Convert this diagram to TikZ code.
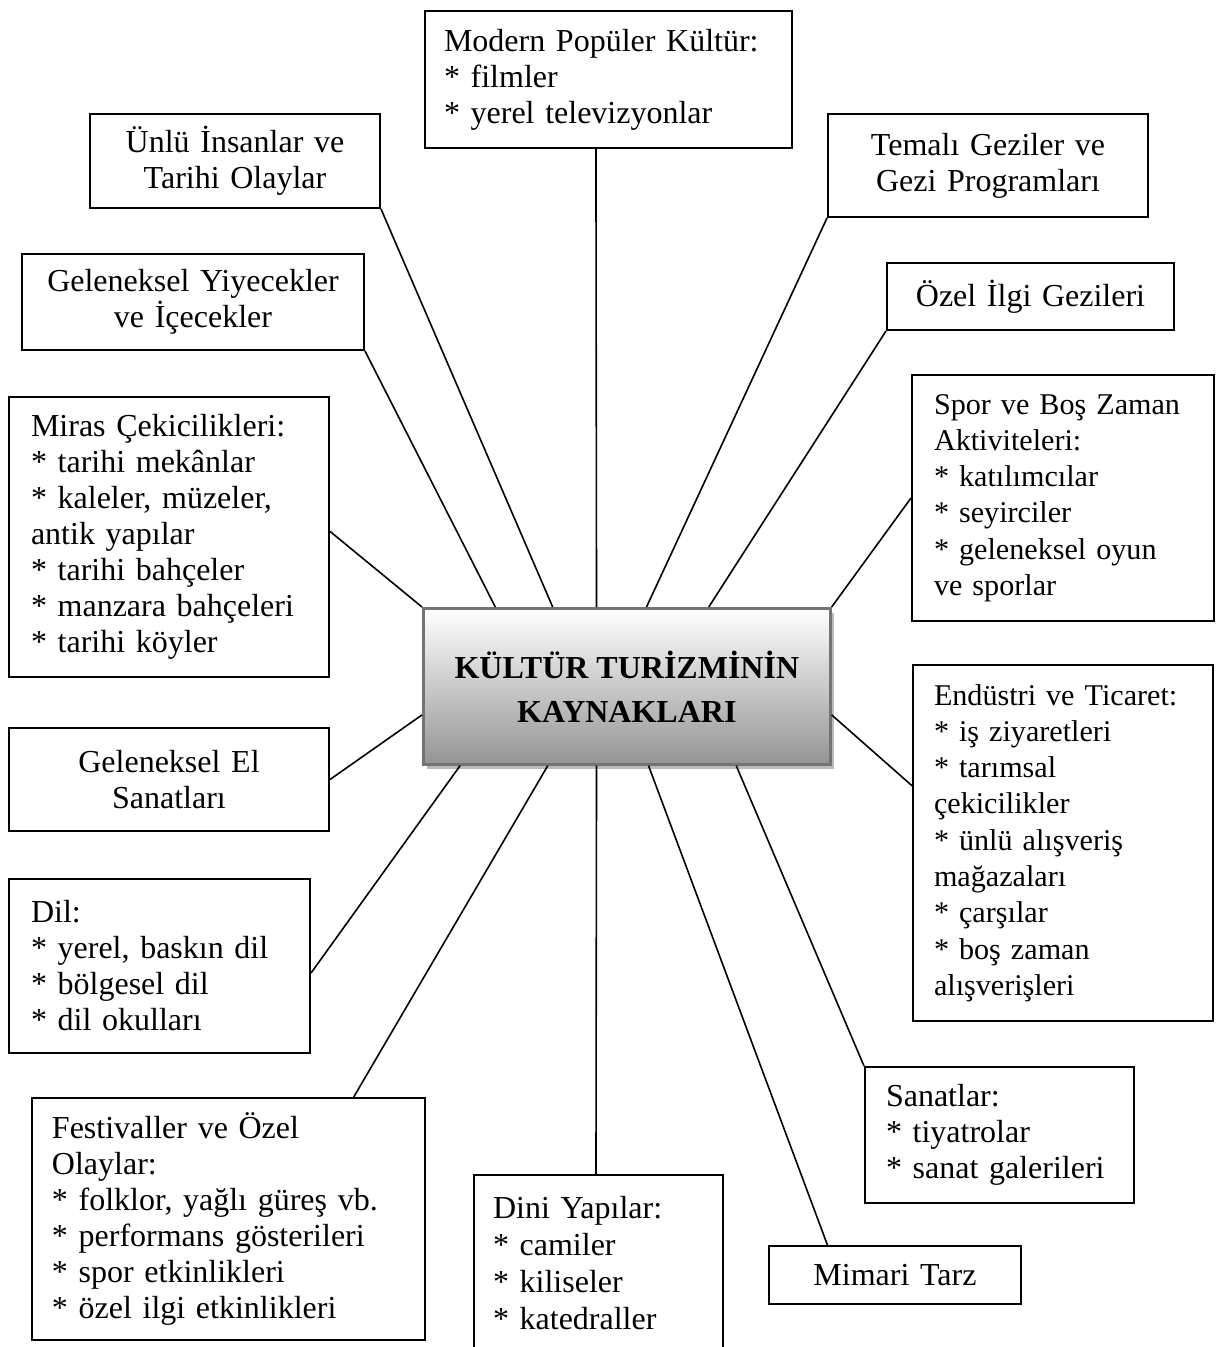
\documentclass[tikz,border=0pt]{standalone}
\usepackage{fontspec}
\setmainfont{Liberation Serif}
\usetikzlibrary{calc,shadows}

\def\birim{0.375pt}
\tikzset{
  kutu/.style n args={3}{draw, line width=0.75pt, anchor=north west, inner sep=0pt,
    minimum width=#1*\birim, minimum height=#2*\birim, text width=(#1-#3)*\birim,
    align=left, font=\fontsize{12}{13.5}\selectfont},
  ortali/.style={align=center},
  dar/.style={font=\fontsize{11.3}{13.6}\selectfont},
  merkez/.style={draw=black!55, line width=1pt, anchor=north west, inner sep=0pt,
    minimum width=407*\birim, minimum height=156*\birim, align=center,
    font=\fontsize{12}{16.5}\selectfont\bfseries,
    top color=white, middle color=black!12, bottom color=black!42,
    drop shadow={shadow xshift=1.5pt, shadow yshift=-1.6pt, fill=black!30, opacity=0.9}}
}

\begin{document}
\begin{tikzpicture}[x=\birim, y=-\birim, line width=0.6pt]
    \useasboundingbox (0,0) rectangle (1220,1347);

    \node[kutu={367}{137}{38}] (modern) at (424,10) {Modern Popüler Kültür:\\{}* filmler\\{}* yerel televizyonlar};
    \node[kutu={290}{94}{20}, ortali] (unlu) at (89,113) {Ünlü İnsanlar ve\\Tarihi Olaylar};
    \node[kutu={320}{103}{20}, ortali] (temali) at (827,113) {Temalı Geziler ve\\Gezi Programları};
    \node[kutu={342}{96}{10}, ortali] (yiyecek) at (21,253) {Geleneksel Yiyecekler\\ve İçecekler};
    \node[kutu={287}{67}{20}, ortali] (ozel) at (886,262) {Özel İlgi Gezileri};
    \node[kutu={320}{280}{44}] (miras) at (8,396) {Miras Çekicilikleri:\\{}* tarihi mekânlar\\{}* kaleler, müzeler,\\antik yapılar\\{}* tarihi bahçeler\\{}* manzara bahçeleri\\{}* tarihi köyler};
    \node[kutu={302}{246}{44}, dar] (spor) at (911,374) {Spor ve Boş Zaman\\Aktiviteleri:\\{}* katılımcılar\\{}* seyirciler\\{}* geleneksel oyun\\ve sporlar};
    \node[merkez] (kaynak) at (422,607) {KÜLTÜR TURİZMİNİN\\KAYNAKLARI};
    \node[kutu={320}{103}{20}, ortali] (el) at (8,727) {Geleneksel El\\Sanatları};
    \node[kutu={300}{356}{42}, dar] (endustri) at (912,664) {Endüstri ve Ticaret:\\{}* iş ziyaretleri\\{}* tarımsal\\çekicilikler\\{}* ünlü alışveriş\\mağazaları\\{}* çarşılar\\{}* boş zaman\\alışverişleri};
    \node[kutu={301}{174}{44}] (dil) at (8,878) {Dil:\\{}* yerel, baskın dil\\{}* bölgesel dil\\{}* dil okulları};
    \node[kutu={269}{136}{42}] (sanatlar) at (864,1066) {Sanatlar:\\{}* tiyatrolar\\{}* sanat galerileri};
    \node[kutu={393}{242}{40}] (festival) at (31,1097) {Festivaller ve Özel\\Olaylar:\\{}* folklor, yağlı güreş vb.\\{}* performans gösterileri\\{}* spor etkinlikleri\\{}* özel ilgi etkinlikleri};
    \node[kutu={249}{168}{38}, minimum height=176*\birim, font=\fontsize{12}{13.8}\selectfont] (dini) at (473,1174) {Dini Yapılar:\\{}* camiler\\{}* kiliseler\\{}* katedraller\\[6pt]};
    \node[kutu={252}{58}{20}, ortali] (mimari) at (768,1245) {Mimari Tarz};

    \draw ($(modern.south west)!0.466!(modern.south east)$) edge ($(kaynak.north west)!0.426!(kaynak.north east)$)
          (unlu.south east) edge ($(kaynak.north west)!0.319!(kaynak.north east)$)
          (yiyecek.south east) edge ($(kaynak.north west)!0.179!(kaynak.north east)$)
          (temali.south west) edge ($(kaynak.north west)!0.548!(kaynak.north east)$)
          (ozel.south west) edge ($(kaynak.north west)!0.7!(kaynak.north east)$)
          ($(miras.north east)!0.48!(miras.south east)$) edge (kaynak.north west)
          (spor.west) edge (kaynak.north east)
          (el.east) edge ($(kaynak.north west)!0.68!(kaynak.south west)$)
          ($(endustri.north west)!0.34!(endustri.south west)$) edge ($(kaynak.north east)!0.68!(kaynak.south east)$)
          ($(dil.north east)!0.54!(dil.south east)$) edge ($(kaynak.south west)!0.093!(kaynak.south east)$)
          ($(festival.north west)!0.817!(festival.north east)$) edge ($(kaynak.south west)!0.307!(kaynak.south east)$)
          ($(dini.north west)!0.49!(dini.north east)$) edge ($(kaynak.south west)!0.426!(kaynak.south east)$)
          ($(mimari.north west)!0.234!(mimari.north east)$) edge ($(kaynak.south west)!0.553!(kaynak.south east)$)
          (sanatlar.north west) edge ($(kaynak.south west)!0.767!(kaynak.south east)$);
\end{tikzpicture}
\end{document}
